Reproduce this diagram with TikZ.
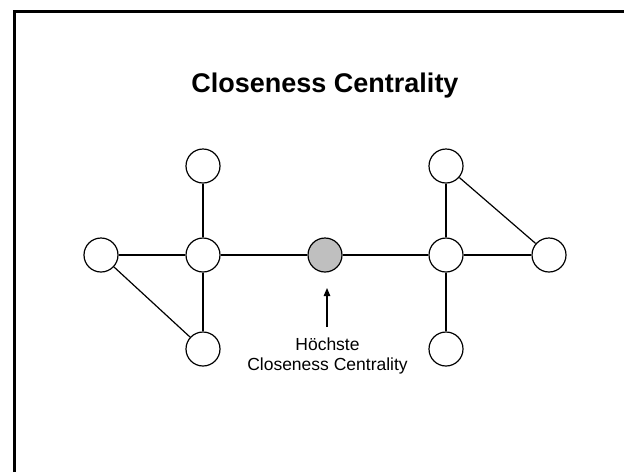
\documentclass[tikz,border=0pt]{standalone}
\usepackage{fontspec}
\setmainfont{Liberation Sans}
\usetikzlibrary{arrows.meta}
\definecolor{hubgray}{RGB}{191,191,191}
\begin{document}
\begin{tikzpicture}[x=1pt,y=-1pt,
  vertex/.style={circle,draw=black,line width=1.2pt,fill=white,minimum size=34pt,inner sep=0pt},
  hub/.style={vertex,fill=hubgray},
  edge/.style={line width=1.2pt},
  pointer/.style={line width=1.2pt,-{Triangle[length=8pt,width=6.5pt]}}]
\useasboundingbox (0,0) rectangle (624,472);
% slide frame (partially cut off)
\draw[line width=3pt] (14,472) -- (14,11) -- (624,11);
% title
\node[font=\bfseries\fontsize{27}{32}\selectfont] (title) at (325,86) {Closeness Centrality};
% left cluster
\node[vertex] (lt) at (203,166) {};
\node[vertex] (lm) at (203,255) {};
\node[vertex] (ll) at (101,255) {};
\node[vertex] (lb) at (203,349) {};
% central vertex
\node[hub] (c) at (325,255) {};
% right cluster
\node[vertex] (rt) at (446,166) {};
\node[vertex] (rm) at (446,255) {};
\node[vertex] (rr) at (549,255) {};
\node[vertex] (rb) at (446,349) {};
% edges
\draw[edge] (lt) -- (lm);
\draw[edge] (ll) -- (lm);
\draw[edge] (lm) -- (lb);
\draw[edge] (ll) -- (lb);
\draw[edge] (lm) -- (c);
\draw[edge] (c) -- (rm);
\draw[edge] (rt) -- (rm);
\draw[edge] (rm) -- (rr);
\draw[edge] (rm) -- (rb);
\draw[edge] (rt) -- (rr);
% annotation
\node[font=\fontsize{17.5}{20}\selectfont,align=center,inner sep=0pt] (label) at (327.5,356) {Höchste\\Closeness Centrality};
\coordinate (tail) at (327,327);
\coordinate (tip) at (327,288);
\draw[pointer] (tail) -- (tip);
\end{tikzpicture}
\end{document}
